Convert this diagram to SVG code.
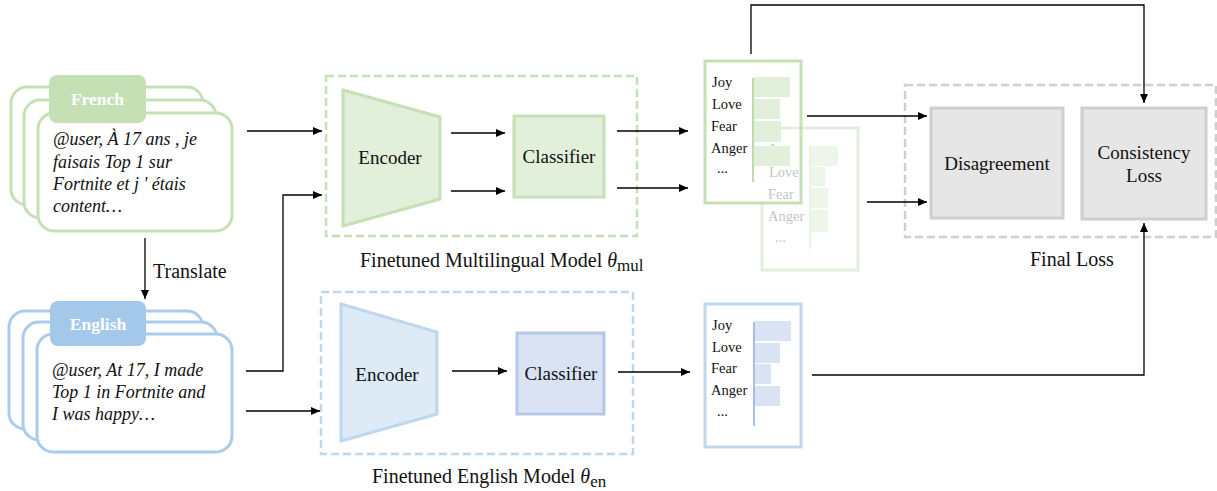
<svg xmlns="http://www.w3.org/2000/svg" width="1217" height="491" viewBox="0 0 1217 491">
  <defs>
    <marker id="arrow" viewBox="0 0 9 8" refX="9" refY="4" markerWidth="9" markerHeight="8" markerUnits="userSpaceOnUse" orient="auto">
      <path d="M0,0 L9,4 L0,8 z" fill="#000"/>
    </marker>
    <style>
      text { font-family: "Liberation Serif", "Times New Roman", serif; fill: #111; }
      .card-g { fill: #fff; stroke: #c5e0b4; stroke-width: 3; }
      .card-b { fill: #fff; stroke: #a9cbec; stroke-width: 3; }
      .tab-g { fill: #c5e0b4; }
      .tab-b { fill: #a4c8ea; }
      .tab-text { font-size: 17.5px; font-weight: bold; fill: #fff; text-anchor: middle; }
      .body { font-size: 18px; font-style: italic; }
      .dash-g { fill: none; stroke: #c5e0b4; stroke-width: 2.5; stroke-dasharray: 8 4; }
      .dash-b { fill: none; stroke: #bdd7ee; stroke-width: 2.5; stroke-dasharray: 8 4; }
      .dash-k { fill: none; stroke: #d0cece; stroke-width: 2.5; stroke-dasharray: 8 4; }
      .blk-g { fill: #e2efda; stroke: #c5e0b4; stroke-width: 3; }
      .blk-b { fill: #deebf7; stroke: #bdd7ee; stroke-width: 3; }
      .blk-b2 { fill: #dae3f3; stroke: #b4c7e7; stroke-width: 3; }
      .blk-k { fill: #e7e6e6; stroke: #d0cece; stroke-width: 3; }
      .blk-text { font-size: 19px; text-anchor: middle; }
      .caption { font-size: 20px; }
      .lbl { font-size: 14.5px; }
      .faded { font-size: 14.5px; fill: #c4c4c4; }
      .wire { fill: none; stroke: #000; stroke-width: 1.3; }
    </style>
  </defs>

  <!-- French input tweet stack -->
  <g id="french-input">
    <rect class="card-g" x="11" y="87" width="192" height="118" rx="16"/>
    <rect class="card-g" x="24" y="100" width="192" height="118" rx="16"/>
    <rect class="card-g" x="38" y="113" width="194" height="118" rx="16"/>
    <rect class="tab-g" x="49" y="75" width="97" height="48" rx="8"/>
    <text class="tab-text" x="97.5" y="105">French</text>
    <text class="body" x="53" y="145">@user, À 17 ans , je</text>
    <text class="body" x="53" y="168">faisais Top 1 sur</text>
    <text class="body" x="53" y="190">Fortnite et j ' étais</text>
    <text class="body" x="53" y="212">content…</text>
  </g>

  <!-- English input tweet stack -->
  <g id="english-input">
    <rect class="card-b" x="9" y="311" width="194" height="118" rx="16"/>
    <rect class="card-b" x="23" y="322" width="194" height="118" rx="16"/>
    <rect class="card-b" x="37" y="334" width="195" height="118" rx="16"/>
    <rect class="tab-b" x="50" y="301" width="96" height="45" rx="8"/>
    <text class="tab-text" x="98" y="330">English</text>
    <text class="body" x="52" y="376">@user, At 17, I made</text>
    <text class="body" x="52" y="398">Top 1 in Fortnite and</text>
    <text class="body" x="52" y="420">I was happy…</text>
  </g>

  <text id="translate-label" class="caption" x="153" y="278">Translate</text>

  <!-- Multilingual model -->
  <g id="multilingual-model">
    <rect class="dash-g" x="326" y="76" width="311" height="160"/>
    <polygon class="blk-g" points="343,90 440,117 440,199 343,226"/>
    <text class="blk-text" x="390" y="164">Encoder</text>
    <rect class="blk-g" x="514" y="116" width="90" height="81"/>
    <text class="blk-text" x="559" y="163">Classifier</text>
    <text class="caption" x="360" y="267">Finetuned Multilingual Model <tspan font-style="italic">θ</tspan><tspan font-size="17" dy="4">mul</tspan></text>
  </g>

  <!-- English model -->
  <g id="english-model">
    <rect class="dash-b" x="321" y="292" width="312" height="162"/>
    <polygon class="blk-b" points="341,304 437,332 437,414 341,441"/>
    <text class="blk-text" x="387" y="381">Encoder</text>
    <rect class="blk-b2" x="517" y="333" width="87" height="81"/>
    <text class="blk-text" x="561" y="380">Classifier</text>
    <text class="caption" x="372" y="483">Finetuned English Model <tspan font-style="italic">θ</tspan><tspan font-size="17" dy="4">en</tspan></text>
  </g>

  <!-- Second multilingual prediction (faded, behind) -->
  <g id="multilingual-output-2">
    <path d="M781,128 H858 V270 H762 V203" fill="none" stroke="#e2efda" stroke-width="3"/>
    <text class="faded" x="769" y="154">Joy</text>
    <text class="faded" x="769" y="177">Love</text>
    <text class="faded" x="768" y="199">Fear</text>
    <text class="faded" x="768" y="221">Anger</text>
    <text class="faded" x="775" y="242">...</text>
    <rect x="811" y="146" width="27" height="20" fill="#eef5e9"/>
    <rect x="811" y="167" width="14" height="19" fill="#eef5e9"/>
    <rect x="811" y="188" width="17" height="20" fill="#eef5e9"/>
    <rect x="811" y="210" width="17" height="22" fill="#eef5e9"/>
    <line x1="810" y1="146" x2="810" y2="249" stroke="#e2efda" stroke-width="1.5"/>
  </g>

  <!-- First multilingual prediction -->
  <g id="multilingual-output-1">
    <rect x="705" y="61" width="96" height="142" fill="none" stroke="#c5e0b4" stroke-width="3"/>
    <text class="lbl" x="712" y="87">Joy</text>
    <text class="lbl" x="712" y="109">Love</text>
    <text class="lbl" x="711" y="131">Fear</text>
    <text class="lbl" x="711" y="153">Anger</text>
    <text class="lbl" x="717" y="173">...</text>
    <rect x="754" y="77" width="36" height="20" fill="#e2efda"/>
    <rect x="754" y="99" width="26" height="20" fill="#e2efda"/>
    <rect x="754" y="121" width="27" height="21" fill="#e2efda"/>
    <rect x="754" y="146" width="36" height="20" fill="#e2efda"/>
    <line x1="753" y1="78" x2="753" y2="182" stroke="#a9d18e" stroke-width="1.5"/>
  </g>

  <!-- English prediction -->
  <g id="english-output">
    <rect x="705" y="304" width="96" height="143" fill="none" stroke="#bdd7ee" stroke-width="3"/>
    <text class="lbl" x="712" y="330">Joy</text>
    <text class="lbl" x="712" y="352">Love</text>
    <text class="lbl" x="711" y="373">Fear</text>
    <text class="lbl" x="711" y="395">Anger</text>
    <text class="lbl" x="717" y="416">...</text>
    <rect x="755" y="321" width="36" height="20" fill="#dae3f3"/>
    <rect x="755" y="343" width="25" height="20" fill="#dae3f3"/>
    <rect x="755" y="364" width="16" height="20" fill="#dae3f3"/>
    <rect x="755" y="386" width="25" height="20" fill="#dae3f3"/>
    <line x1="754" y1="322" x2="754" y2="426" stroke="#8faadc" stroke-width="1.5"/>
  </g>

  <!-- Final loss -->
  <g id="final-loss">
    <rect class="dash-k" x="905" y="85" width="311" height="152"/>
    <rect class="blk-k" x="931" y="108" width="132" height="110"/>
    <text class="blk-text" x="997" y="170">Disagreement</text>
    <rect class="blk-k" x="1082" y="108" width="124" height="111"/>
    <text class="blk-text" x="1144" y="159">Consistency</text>
    <text class="blk-text" x="1144" y="182">Loss</text>
    <text class="caption" x="1030" y="266">Final Loss</text>
  </g>

  <!-- Connectors -->
  <g id="connectors">
    <path class="wire" d="M145,238 V299" marker-end="url(#arrow)"/>
    <path class="wire" d="M247,131 H322" marker-end="url(#arrow)"/>
    <path class="wire" d="M246,371 H283 V195 H322" marker-end="url(#arrow)"/>
    <path class="wire" d="M246,411 H320" marker-end="url(#arrow)"/>
    <path class="wire" d="M451,133 H505" marker-end="url(#arrow)"/>
    <path class="wire" d="M451,191 H505" marker-end="url(#arrow)"/>
    <path class="wire" d="M452,371 H507" marker-end="url(#arrow)"/>
    <path class="wire" d="M617,131 H688" marker-end="url(#arrow)"/>
    <path class="wire" d="M617,188 H688" marker-end="url(#arrow)"/>
    <path class="wire" d="M618,372 H690" marker-end="url(#arrow)"/>
    <path class="wire" d="M807,116 H927" marker-end="url(#arrow)"/>
    <path class="wire" d="M867,202 H927" marker-end="url(#arrow)"/>
    <path class="wire" d="M751,54 V5 H1144 V103" marker-end="url(#arrow)"/>
    <path class="wire" d="M812,375 H1144 V223" marker-end="url(#arrow)"/>
  </g>
</svg>
